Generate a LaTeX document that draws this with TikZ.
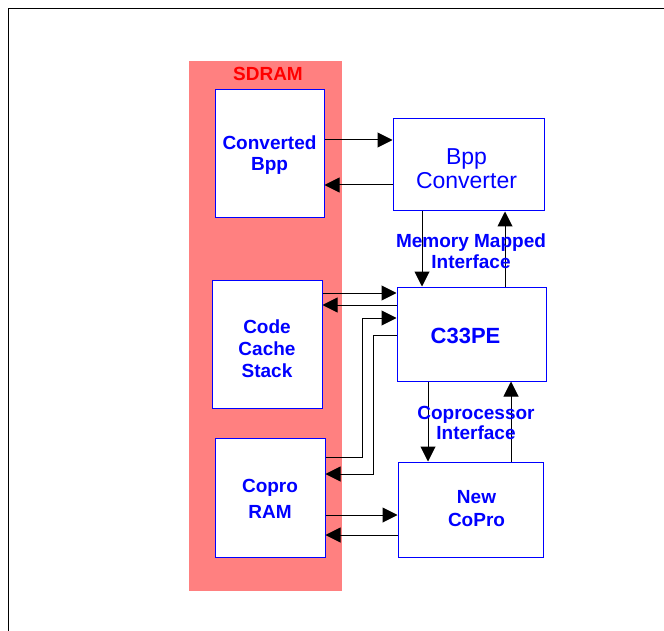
\documentclass[tikz,border=0pt]{standalone}
\usepackage{fontspec}
\setmainfont{Liberation Sans}
\usetikzlibrary{arrows.meta, positioning, calc}
\definecolor{sdramred}{RGB}{255,128,128}
\definecolor{boxblue}{RGB}{0,0,255}

\begin{document}
\begin{tikzpicture}[x=1pt, y=-1pt,
    blk/.style={draw=boxblue, line width=1pt, fill=white, inner sep=0pt},
    txt/.style={text=boxblue, align=center, font=\fontsize{19}{21}\selectfont\bfseries},
    arr/.style={line width=1pt, -{Triangle[length=15pt, width=15pt]}}]
  \useasboundingbox (0,0) rectangle (664,631);
  % outer frame (only top and left edges show)
  \draw[line width=1pt] (8,631) -- (8,9) -- (664,9);
  % SDRAM column
  \fill[sdramred] (189,61) rectangle (342,591);
  \node[text=red, font=\fontsize{19}{21}\selectfont\bfseries] (sdram) at (268,74) {SDRAM};
  % memory blocks
  \node[blk, minimum width=109pt, minimum height=128pt,
    label={[txt, yshift=-1pt]center:{Converted\\Bpp}}] (cbpp) at (269.5,154) {};
  \node[blk, minimum width=110pt, minimum height=128pt,
    label={[txt, font=\fontsize{19}{22}\selectfont\bfseries, yshift=-5pt]center:{Code\\Cache\\Stack}}] (ccs) at (267,344) {};
  \node[blk, minimum width=110pt, minimum height=119pt,
    label={[txt, font=\fontsize{19}{26}\selectfont\bfseries, yshift=-1pt]center:{Copro\\RAM}}] (cram) at (270,497.5) {};
  % processing blocks
  \node[blk, minimum width=151pt, minimum height=92pt,
    label={[txt, font=\fontsize{23}{24}\selectfont, xshift=-2pt, yshift=-4pt]center:{Bpp\\Converter}}] (bconv) at (468.5,165) {};
  \node[blk, minimum width=149pt, minimum height=94pt,
    label={[txt, font=\fontsize{22}{24}\selectfont\bfseries, xshift=-6pt, yshift=-2pt]center:{C33PE}}] (c33) at (471.5,334) {};
  \node[blk, minimum width=145pt, minimum height=95pt,
    label={[txt, font=\fontsize{19}{23}\selectfont\bfseries, xshift=6pt, yshift=1pt]center:{New\\CoPro}}] (ncp) at (470.5,509.5) {};
  % Converted Bpp <-> Bpp Converter
  \draw[arr] (cbpp.east |- 0,140) -- (bconv.west |- 0,140);
  \draw[arr] (bconv.west |- 0,185) -- (cbpp.east |- 0,185);
  % memory mapped interface
  \draw[arr] (bconv.south -| 422,0) -- (c33.north -| 422,0);
  \draw[arr] (c33.north -| 505,0) -- (bconv.south -| 505,0);
  % Code Cache Stack <-> C33PE
  \draw[arr] (ccs.east |- 0,293) -- (c33.west |- 0,293);
  \draw[arr] (c33.west |- 0,305) -- (ccs.east |- 0,305);
  % Copro RAM <-> C33PE
  \draw[arr] (cram.east |- 0,457) -| (362,318) -- (c33.west |- 0,318);
  \draw[arr] (c33.west |- 0,335) -| (373,474) -- (cram.east |- 0,474);
  % coprocessor interface
  \draw[arr] (c33.south -| 428,0) -- (ncp.north -| 428,0);
  \draw[arr] (ncp.north -| 511,0) -- (c33.south -| 511,0);
  % Copro RAM <-> New CoPro
  \draw[arr] (cram.east |- 0,515) -- (ncp.west |- 0,515);
  \draw[arr] (ncp.west |- 0,535) -- (cram.east |- 0,535);
  % interface labels
  \node[txt] (mmi) at (471,251) {Memory Mapped\\Interface};
  \node[txt, font=\fontsize{19}{20}\selectfont\bfseries] (cpi) at (476,423) {Coprocessor\\Interface};
\end{tikzpicture}
\end{document}
